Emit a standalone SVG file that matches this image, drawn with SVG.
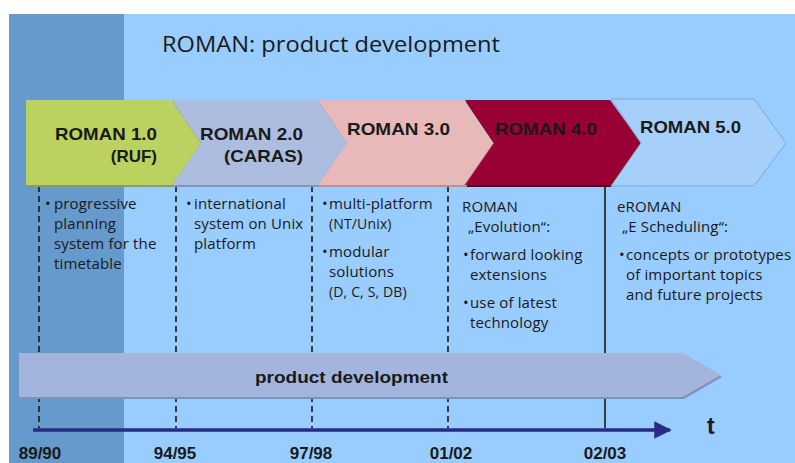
<svg xmlns="http://www.w3.org/2000/svg" width="795" height="463" viewBox="0 0 795 463">
<style>
.chev{font-family:"Liberation Sans",Arial,sans-serif;font-weight:bold;font-size:17px;fill:#1a1a1a}
.yr{font-family:"Liberation Sans",Arial,sans-serif;font-weight:bold;font-size:17px;fill:#1a1a1a}
.body{font-family:"Open Sans","Noto Sans",sans-serif;font-size:15px;letter-spacing:0.15px;fill:#1a1a1a}
.small{font-size:14px}
.dash{stroke:#1a1a1a;stroke-width:1.6;stroke-dasharray:6 4;fill:none}
</style>
<defs>
<marker id="arr" viewBox="0 0 10 10" refX="9" refY="5" markerWidth="5" markerHeight="5" markerUnits="strokeWidth" orient="auto">
<path d="M0,0 L10,5 L0,10 Z" fill="#2b2b85"/>
</marker>
</defs>
<rect x="0" y="0" width="795" height="463" fill="#ffffff"/>
<rect x="9" y="14" width="786" height="449" fill="#99ccff"/>
<rect x="9" y="14" width="115" height="449" fill="#6699cc"/>
<text x="162" y="52" font-family="Open Sans,Noto Sans,sans-serif" font-size="22" fill="#1a1a1a" textLength="338" lengthAdjust="spacingAndGlyphs">ROMAN: product development</text>

<g id="connectors">
<line class="dash" x1="39" y1="186" x2="39" y2="428"/>
<line class="dash" x1="176" y1="186" x2="176" y2="428"/>
<line class="dash" x1="312" y1="186" x2="312" y2="428"/>
<line class="dash" x1="448" y1="186" x2="448" y2="428"/>
<line x1="605" y1="186" x2="605" y2="428" stroke="#1a1a1a" stroke-width="1.6"/>
<line x1="33" y1="430" x2="670" y2="430" stroke="#2b2b85" stroke-width="3.5" marker-end="url(#arr)"/>
</g>

<g id="bar">
<polygon points="20,355 684,355 722,377 684,399 20,399" fill="#8090b8"/>
<polygon points="19,353 683,353 721,375 683,397 19,397" fill="#a3b5dc"/>
<text x="255" y="383" class="chev" textLength="193" lengthAdjust="spacingAndGlyphs">product development</text>
</g>

<g id="roman1">
<polygon points="27,102 173,102 202,145 173,187 27,187" fill="#8aa04a"/>
<polygon points="26,100 172,100 201,143 172,185 26,185" fill="#bbd160"/>
<text x="55" y="140" class="chev" textLength="102" lengthAdjust="spacingAndGlyphs">ROMAN 1.0</text>
<text x="157" y="162" class="chev" text-anchor="end">(RUF)</text>
</g>
<g id="roman2">
<polygon points="173,102 319,102 348,145 319,187 173,187 202,145" fill="#8595b8"/>
<polygon points="172,100 318,100 347,143 318,185 172,185 201,143" fill="#adbde0"/>
<text x="200" y="140" class="chev" textLength="103" lengthAdjust="spacingAndGlyphs">ROMAN 2.0</text>
<text x="224" y="162" class="chev" textLength="79" lengthAdjust="spacingAndGlyphs">(CARAS)</text>
</g>
<g id="roman3">
<polygon points="319,102 465,102 494,145 465,187 319,187 348,145" fill="#c09090"/>
<polygon points="318,100 464,100 493,143 464,185 318,185 347,143" fill="#e8b9b9"/>
<text x="347" y="135" class="chev" textLength="103" lengthAdjust="spacingAndGlyphs">ROMAN 3.0</text>
</g>
<g id="roman4">
<polygon points="466,102 611,102 642,145 611,187 466,187 495,145" fill="#6a0020"/>
<polygon points="465,100 610,100 641,143 610,185 465,185 494,143" fill="#990033"/>
<text x="495" y="135" class="chev" textLength="102" lengthAdjust="spacingAndGlyphs">ROMAN 4.0</text>
</g>
<g id="roman5">
<polygon points="611,99 754,99 786,143 754,186 611,186 641,143" fill="#a6d0fa" stroke="#7fa8d4" stroke-width="1"/>
<text x="640" y="133" class="chev" textLength="101" lengthAdjust="spacingAndGlyphs">ROMAN 5.0</text>
</g>

<g id="col1" class="body">
<text x="45" y="209">•</text>
<text x="54" y="209">progressive</text>
<text x="54" y="229">planning</text>
<text x="54" y="249">system for the</text>
<text x="54" y="269">timetable</text>
</g>
<g id="col2" class="body">
<text x="186" y="209">•</text>
<text x="194" y="209">international</text>
<text x="194" y="229">system on Unix</text>
<text x="194" y="249">platform</text>
</g>
<g id="col3" class="body">
<text x="322" y="209">•</text>
<text x="329" y="209">multi-platform</text>
<text x="329" y="229" class="small">(NT/Unix)</text>
<text x="322" y="257">•</text>
<text x="329" y="257">modular</text>
<text x="329" y="277">solutions</text>
<text x="329" y="297" class="small">(D, C, S, DB)</text>
</g>
<g id="col4" class="body">
<text x="462" y="212">ROMAN</text>
<text x="468" y="232">„Evolution“:</text>
<text x="463" y="260">•</text>
<text x="470" y="260">forward looking</text>
<text x="470" y="280">extensions</text>
<text x="463" y="308">•</text>
<text x="470" y="308">use of latest</text>
<text x="470" y="328">technology</text>
</g>
<g id="col5" class="body">
<text x="617" y="212">eROMAN</text>
<text x="622" y="232">„E Scheduling“:</text>
<text x="619" y="260">•</text>
<text x="626" y="260">concepts or prototypes</text>
<text x="626" y="280">of important topics</text>
<text x="626" y="300">and future projects</text>
</g>

<g id="axis">
<text x="707" y="434" font-family="Liberation Sans,Arial,sans-serif" font-weight="bold" font-size="23" fill="#1a1a1a">t</text>
<text x="40" y="459" class="yr" text-anchor="middle">89/90</text>
<text x="175" y="459" class="yr" text-anchor="middle">94/95</text>
<text x="311" y="459" class="yr" text-anchor="middle">97/98</text>
<text x="451" y="459" class="yr" text-anchor="middle">01/02</text>
<text x="605" y="459" class="yr" text-anchor="middle">02/03</text>
</g>
</svg>
